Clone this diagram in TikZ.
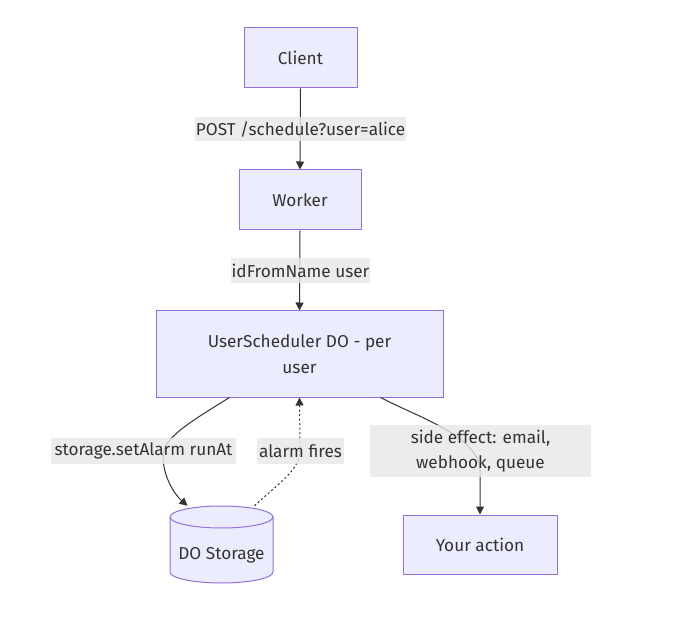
\documentclass[tikz,border=0pt]{standalone}
\usepackage{fontspec}
\setmainfont{Fira Sans}
\usetikzlibrary{arrows.meta,calc}
\definecolor{nodefill}{HTML}{ECECFF}
\definecolor{nodeline}{HTML}{9370DB}
\definecolor{lblbg}{HTML}{E8E8E8}
\definecolor{edgec}{HTML}{333333}
\definecolor{txt}{HTML}{333333}
\begin{document}
\begin{tikzpicture}[x=1pt,y=-1pt,
  box/.style={draw=nodeline, fill=nodefill, line width=1pt, inner sep=0pt, align=center,
    font=\fontsize{17.2}{25.5}\selectfont, text=txt},
  lbl/.style={fill=lblbg, fill opacity=0.8, text opacity=1, inner sep=0pt, align=center,
    font=\fontsize{17.2}{25.5}\selectfont, text=txt},
  conn/.style={draw=edgec, line width=1pt, -{Triangle[length=8pt,width=8pt]}},
  dconn/.style={conn, dash pattern=on 2pt off 2.5pt}]
\useasboundingbox[fill=white] (0,0) rectangle (680,628);
% nodes
\node[box, minimum width=113, minimum height=60] (client) at (300.5,58) {Client};
\node[box, minimum width=122, minimum height=60] (worker) at (300,200) {Worker};
\node[box, minimum width=287, minimum height=86] (us) at (299.5,354) {UserScheduler DO - per\\user};
\node[box, minimum width=154, minimum height=59] (action) at (480,544.5) {Your action};
% storage cylinder
\node[inner sep=0pt, minimum width=103, minimum height=77] (store) at (221.5,544.5) {};
\fill[nodefill] (170,517) -- (170,572) arc[start angle=180, end angle=360, x radius=51.5, y radius=-11]
  -- (273,517) arc[start angle=0, end angle=180, x radius=51.5, y radius=-11] -- cycle;
\draw[nodeline, line width=1pt] (170,517) -- (170,572) arc[start angle=180, end angle=360, x radius=51.5, y radius=-11]
  -- (273,517);
\draw[nodeline, line width=1pt] (221.5,517) ellipse[x radius=51.5, y radius=11];
\node[font=\fontsize{17.2}{25.5}\selectfont, text=txt] at (221.5,555) {DO Storage};
% connectors
\draw[conn] (client.south) -- (worker.north);
\draw[conn] (worker.south) -- (us.north);
\draw[conn] ($(us.south west)+(74,0)$) .. controls (190,422) and (163,438) .. (163,456)
  .. controls (163,476) and (174,494) .. ($(store.north)+(-34,0)$);
\draw[dconn] ($(store.north)+(33,0)$) .. controls (280,482) and (300,470) .. (300,450)
  -- (us.south);
\draw[conn] ($(us.south east)+(-63,0)$) .. controls (420,418) and (478,436) .. (480,470)
  -- (action.north);
% labels
\node[lbl, minimum width=211, minimum height=24] (l1) at (300.5,129) {POST /schedule?user=alice};
\node[lbl, minimum width=139, minimum height=25] (l2) at (300.5,270.5) {idFromName user};
\node[lbl, minimum width=185, minimum height=26] (l3) at (143.5,451) {storage.setAlarm runAt};
\node[lbl, minimum width=87, minimum height=26] (l4) at (300.5,451) {alarm fires};
\node[lbl, minimum width=221, minimum height=52] (l5) at (480.5,451) {side effect: email,\\webhook, queue};
\end{tikzpicture}
\end{document}
